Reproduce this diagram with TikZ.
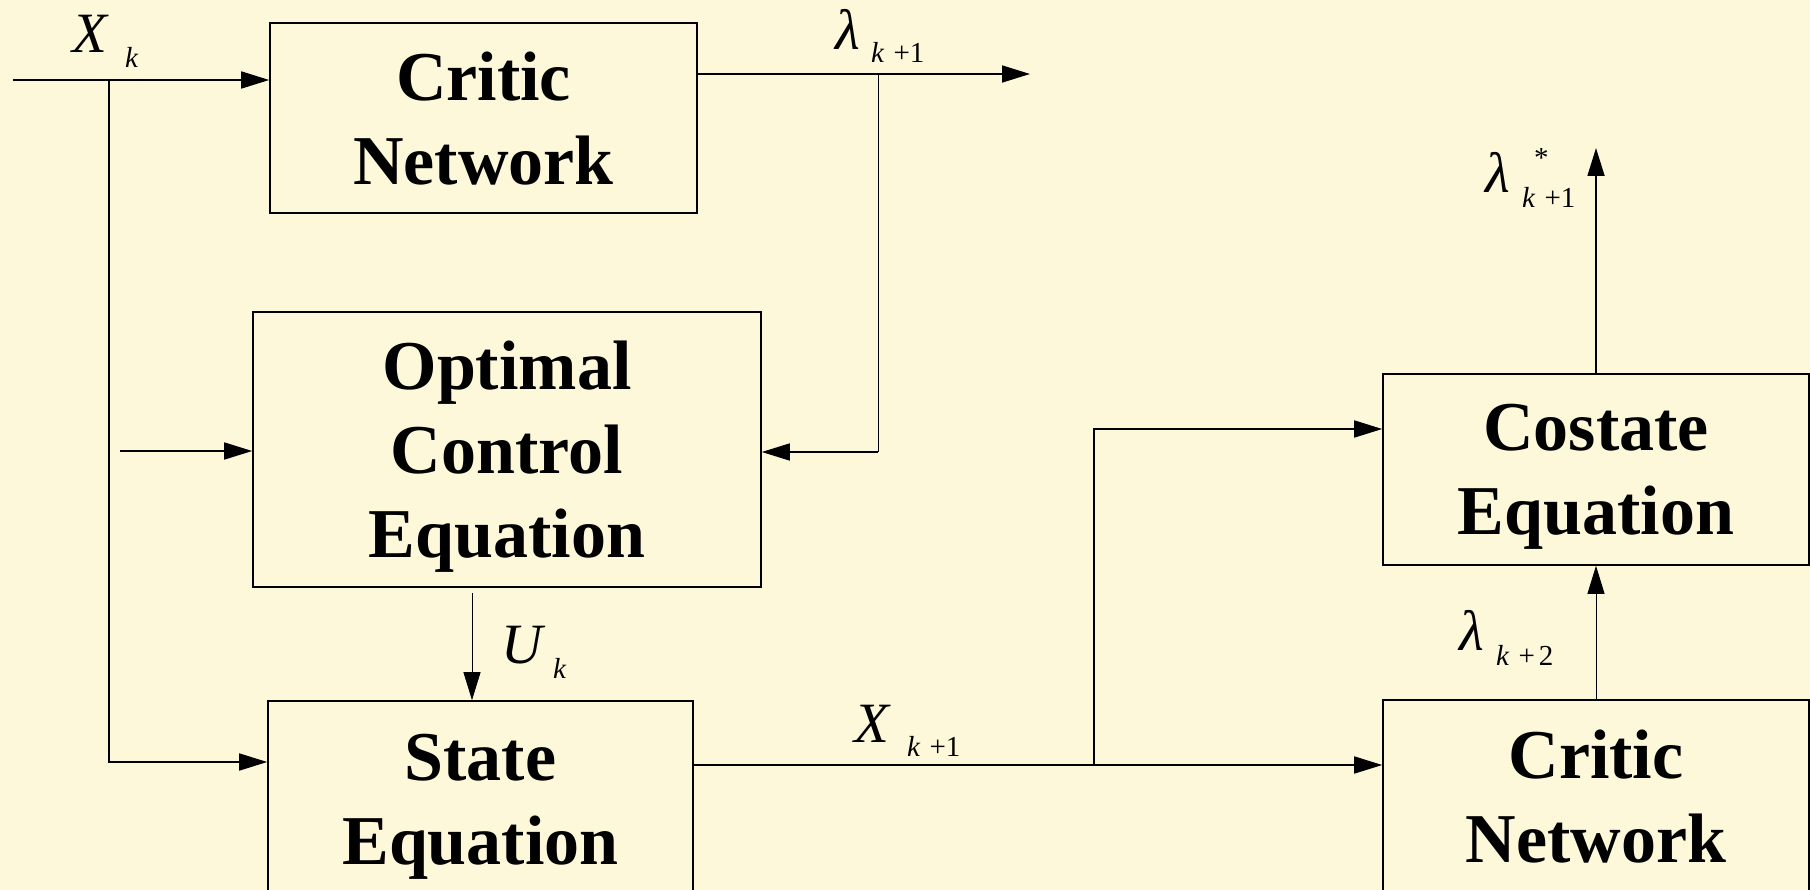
\documentclass[tikz,border=0pt]{standalone}
\usepackage{fontspec}
\setmainfont{Liberation Serif}
\usetikzlibrary{arrows.meta,calc}
\definecolor{paper}{RGB}{254,248,218}
\newcommand\blockfont{\fontsize{70}{84}\selectfont\bfseries}
\tikzset{
  blk/.style={draw, line width=1.6pt, align=center, font=\blockfont,
    inner sep=0pt, text depth=0pt},
  wire/.style={line width=1.7pt},
  thinwire/.style={line width=0.9pt},
  tip/.style={-{Triangle[length=28pt,width=17pt]}},
  biglbl/.style={font=\fontsize{57}{60}\selectfont\itshape, inner sep=0pt, anchor=base west},
  sublbl/.style={font=\fontsize{29}{30}\selectfont, inner sep=0pt, anchor=base west},
}
\begin{document}
\begin{tikzpicture}[x=1pt,y=-1pt]
  % page and background
  \fill[paper] (0,0) rectangle (1810,890);
  \useasboundingbox (0,0) rectangle (1810,890);
  \clip (0,0) rectangle (1810,890);

  % blocks
  \node[blk, minimum width=427pt, minimum height=190pt] (critic1) at (483.5,118) {Critic\\Network};
  \node[blk, minimum width=508pt, minimum height=275pt] (optimal) at (507,449.5) {Optimal\\Control\\Equation};
  \node[blk, minimum width=425pt, minimum height=196pt] (state) at (480.5,799) {State\\Equation};
  \node[blk, minimum width=426pt, minimum height=191pt] (costate) at (1596,469.5) {Costate\\Equation};
  \node[blk, minimum width=426pt, minimum height=192pt] (critic2) at (1596,796) {Critic\\Network};

  % junctions and free ends
  \coordinate (xin) at (13,80);
  \coordinate (xsplit) at (109,80);
  \coordinate (xst) at (109,762);
  \coordinate (xopt) at (120,451);
  \coordinate (lout) at (1030,74);
  \coordinate (lsplit) at (878,74);
  \coordinate (lturn) at (878,452);
  \coordinate (ustart) at (472,593);
  \coordinate (xnext) at (1094,765);
  \coordinate (cturn) at (1094,429);
  \coordinate (lstar) at (1596,148);

  % connectors
  \draw[wire,tip] (xin) -- (xin -| critic1.west);
  \draw[wire,tip] (xsplit) -- (xst) -- (xst -| state.west);
  \draw[wire,tip] (xopt) -- (xopt -| optimal.west);
  \draw[wire,tip] (critic1.east |- lout) -- (lout);
  \draw[thinwire] (lsplit) -- (lturn);
  \draw[wire,tip] (lturn) -- (lturn -| optimal.east);
  \draw[thinwire,tip] (ustart) -- (ustart |- state.north);
  \draw[wire,tip] (state.east |- xnext) -- (xnext -| critic2.west);
  \draw[wire,tip] (xnext) -- (cturn) -- (cturn -| costate.west);
  \draw[wire,tip] (costate.north) -- (lstar);
  \draw[thinwire,tip] (critic2.north) -- (costate.south);

  % signal labels
  \node[biglbl] (xk) at (72,53) {X};
  \node[sublbl] (xksub) at (125,68) {\textit{k}};
  \node[biglbl] (lk) at (835,50) {λ};
  \node[sublbl] (lksub) at (871,63) {\textit{k}\hspace{9pt}+1};
  \node[biglbl] (uk) at (501,663) {U};
  \node[sublbl] (uksub) at (553,678) {\textit{k}};
  \node[biglbl] (xk1) at (854,742) {X};
  \node[sublbl] (xk1sub) at (907,756) {\textit{k}\hspace{9pt}+1};
  \node[biglbl] (lstarlbl) at (1485,193) {λ};
  \node[sublbl] (lstarsup) at (1534,168) {*};
  \node[sublbl] (lstarsub) at (1522,208) {\textit{k}\hspace{9pt}+1};
  \node[biglbl] (lk2) at (1459,650) {λ};
  \node[sublbl] (lk2sub) at (1496,665) {\textit{k}\hspace{9pt}+\hspace{4pt}2};
\end{tikzpicture}
\end{document}
